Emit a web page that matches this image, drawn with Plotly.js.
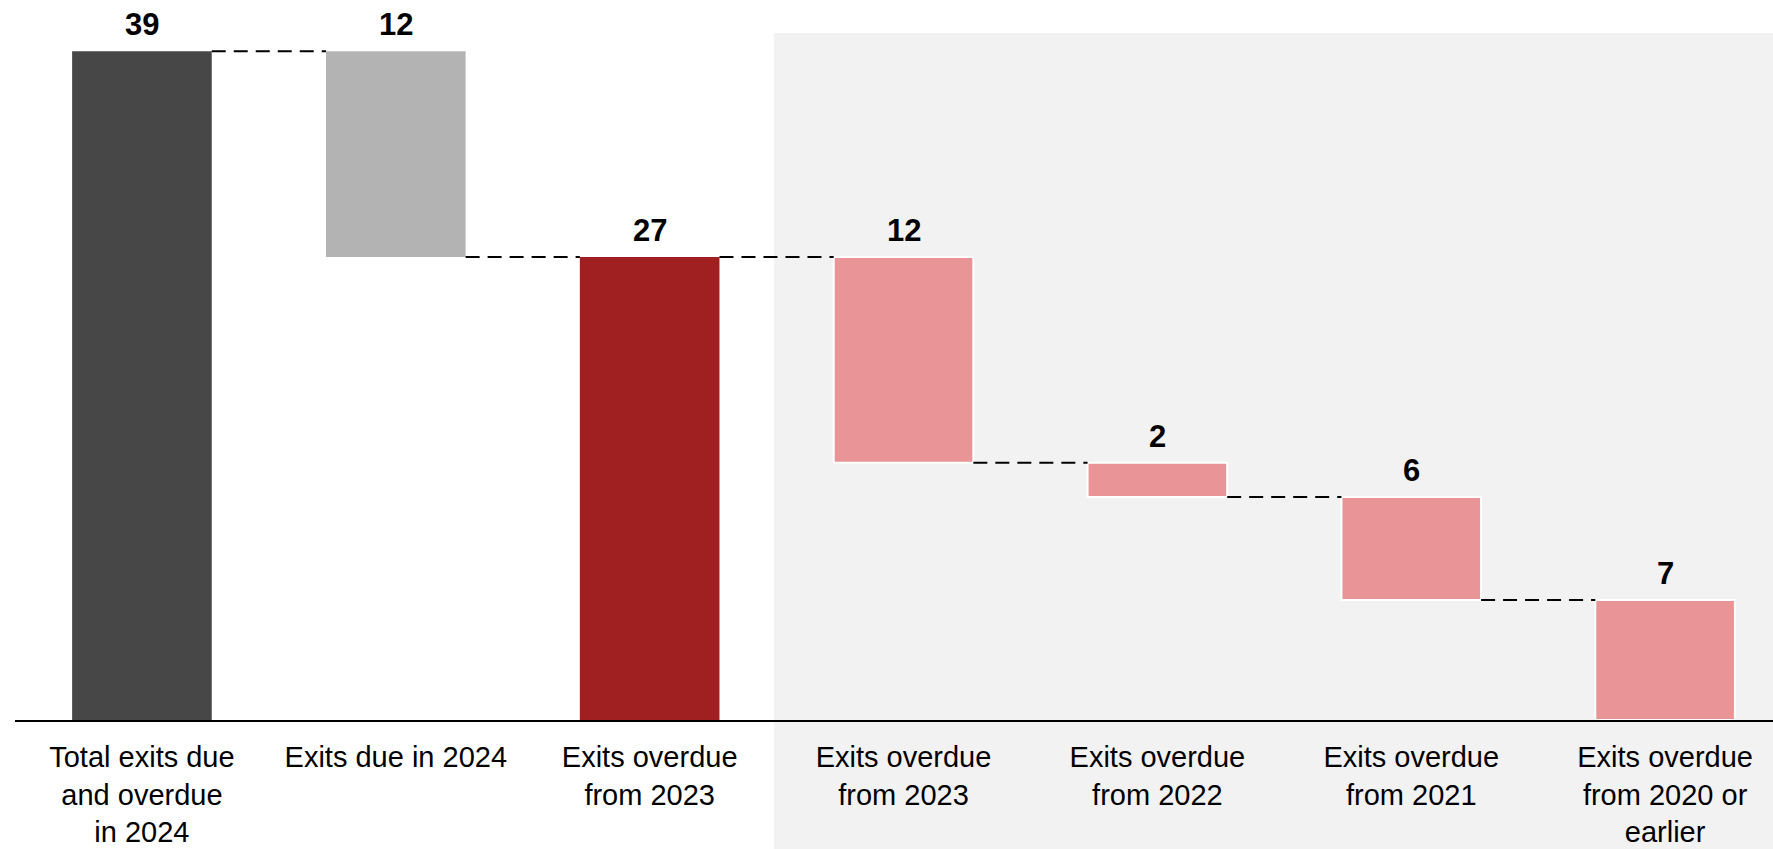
<!DOCTYPE html>
<html>
<head>
<meta charset="utf-8">
<script src="https://cdn.plot.ly/plotly-3.0.1.min.js"></script>
<style>html,body{margin:0;padding:0;background:#fff;}#chart{width:1773px;height:849px;}</style>
</head>
<body>
<div id="chart"></div>
<script>
// ---- data ----
const categories = [
  "Total exits due<br>and overdue<br>in 2024",
  "Exits due in 2024",
  "Exits overdue<br>from 2023",
  "Exits overdue<br>from 2023",
  "Exits overdue<br>from 2022",
  "Exits overdue<br>from 2021",
  "Exits overdue<br>from 2020 or<br>earlier"
];
const measures = ["absolute", "relative", "total", "relative", "relative", "relative", "relative"];
const values = [39, -12, 27, -12, -2, -6, -7];
const barColors = ["#474747", "#b3b3b3", "#a01f21", "#e99597", "#e99597", "#e99597", "#e99597"];
const outlineColors = ["rgba(0,0,0,0)", "rgba(0,0,0,0)", "rgba(0,0,0,0)", "#ffffff", "#ffffff", "#ffffff", "#ffffff"];

// ---- derive waterfall geometry from values ----
const xs = categories.map((c, i) => i);
const bases = [], heights = [], levels = [];
let level = 0;
values.forEach((v, i) => {
  const m = measures[i];
  if (m === "absolute") { bases.push(0); heights.push(v); level = v; }
  else if (m === "total") { bases.push(0); heights.push(level); }
  else { const nl = level + v; bases.push(Math.min(level, nl)); heights.push(Math.abs(v)); level = nl; }
  levels.push(level);
});
const labels = values.map(v => String(Math.abs(v)));

const barWidth = 0.55;
const cx = [], cy = [];
for (let i = 0; i < xs.length - 1; i++) {
  cx.push(xs[i] + barWidth / 2, xs[i + 1] - barWidth / 2, null);
  cy.push(levels[i], levels[i], null);
}

const traces = [
  {
    type: "bar",
    x: xs,
    y: heights,
    base: bases,
    width: barWidth,
    marker: { color: barColors, line: { color: outlineColors, width: 2 } },
    hoverinfo: "skip",
    showlegend: false
  },
  {
    type: "scatter",
    mode: "lines",
    x: cx,
    y: cy,
    line: { color: "#000000", width: 2, dash: "14px,8px" },
    hoverinfo: "skip",
    showlegend: false,
    cliponaxis: false
  }
];

const annotations = xs.map((x, i) => ({
  x: x,
  y: bases[i] + heights[i],
  xref: "x", yref: "y",
  text: "<b>" + labels[i] + "</b>",
  showarrow: false,
  yanchor: "bottom",
  yshift: 7,
  font: { family: "Liberation Sans, Arial, sans-serif", size: 31, color: "#000000" }
}));

const layout = {
  width: 1773,
  height: 849,
  margin: { l: 15, r: 0, t: 33, b: 129 },
  paper_bgcolor: "#ffffff",
  plot_bgcolor: "rgba(0,0,0,0)",
  showlegend: false,
  bargap: 0,
  xaxis: {
    range: [-0.5, 6.425],
    tickvals: xs,
    ticktext: categories,
    showgrid: false,
    zeroline: false,
    showline: true,
    linecolor: "#000000",
    linewidth: 2,
    ticks: "",
    ticklabelstandoff: 10,
    tickfont: { family: "Liberation Sans, Arial, sans-serif", size: 29, color: "#000000" },
    fixedrange: true
  },
  yaxis: {
    range: [0, 40.06],
    showgrid: false,
    zeroline: false,
    showline: false,
    showticklabels: false,
    ticks: "",
    fixedrange: true
  },
  shapes: [
    {
      type: "rect",
      xref: "x", yref: "paper",
      x0: 2.49, x1: 7,
      y0: -0.3, y1: 1,
      fillcolor: "#f2f2f2",
      line: { width: 0 },
      layer: "below"
    }
  ],
  annotations: annotations
};

Plotly.newPlot("chart", traces, layout, { displayModeBar: false, staticPlot: true });
</script>
</body>
</html>
